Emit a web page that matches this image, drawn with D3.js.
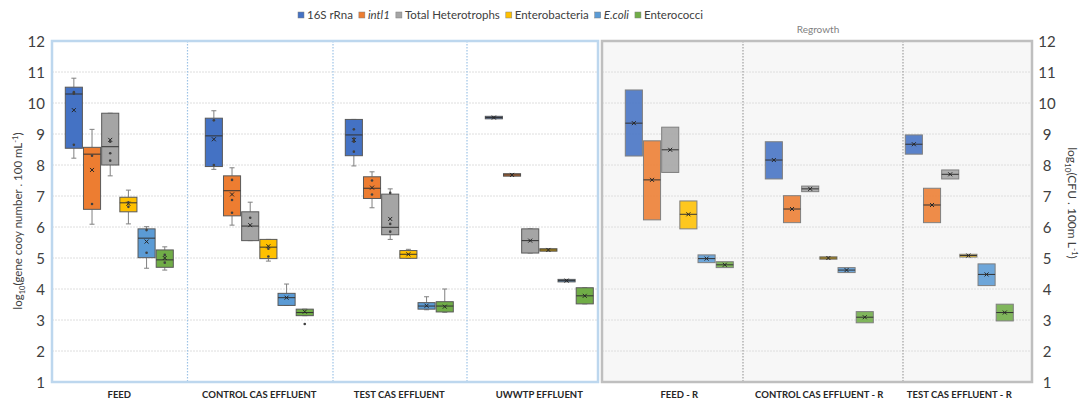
<!DOCTYPE html>
<html><head><meta charset="utf-8">
<script src="https://cdn.jsdelivr.net/npm/d3@7"></script>
<style>body{margin:0;background:#fff}svg{display:block;font-family:Lato,"Open Sans",sans-serif}</style>
</head><body><svg id="c" width="1084" height="403"></svg>
<script>
const categories = ["FEED","CONTROL CAS EFFLUENT","TEST CAS EFFLUENT","UWWTP EFFLUENT","FEED - R","CONTROL CAS EFFLUENT - R","TEST CAS EFFLUENT - R"];
const seriesNames = ["16S rRna","intl1","Total Heterotrophs","Enterobacteria","E.coli","Enterococci"];
const seriesColors = ["#4472c4","#ed7d31","#a5a5a5","#ffc000","#5b9bd5","#70ad47"];
const yTicks = [1,2,3,4,5,6,7,8,9,10,11,12];
// rows: [whiskerLow, q1, median, q3, whiskerHigh, mean] per category
const s16S = [[8.22,8.54,10.29,10.51,10.80,9.77],[7.86,7.95,8.94,9.51,9.75,8.83],[7.97,8.30,8.97,9.47,9.47,8.81],[9.50,9.50,9.53,9.56,9.56,9.53],[null,8.29,9.35,10.42,null,9.35],[null,7.55,8.16,8.75,null,8.16],[null,8.35,8.67,8.97,null,8.67]];
const sIntl1 = [[6.09,6.57,8.35,8.57,9.15,7.84],[6.06,6.36,7.17,7.65,7.91,7.05],[6.62,6.92,7.25,7.62,7.78,7.27],[7.66,7.66,7.68,7.70,7.70,7.68],[null,6.23,7.52,8.78,null,7.52],[null,6.14,6.58,7.01,null,6.58],[null,6.14,6.71,7.25,null,6.71]];
const sTotalHet = [[7.65,8.00,8.59,9.67,9.67,8.81],[5.56,5.56,6.03,6.49,6.80,6.06],[5.60,5.75,5.99,7.06,7.23,6.26],[5.16,5.16,5.56,5.94,5.94,5.56],[null,7.76,8.49,9.22,null,8.49],[null,7.14,7.23,7.32,null,7.23],[null,7.55,7.70,7.84,null,7.70]];
const sEnterobact = [[6.10,6.49,6.78,6.96,7.19,6.75],[4.90,4.98,5.35,5.60,5.60,5.38],[4.99,4.99,5.12,5.24,5.28,5.12],[5.24,5.24,5.26,5.28,5.28,5.26],[null,5.94,6.41,6.84,null,6.41],[null,4.97,5.00,5.03,null,5.00],[null,5.03,5.08,5.12,null,5.08]];
const sEcoli = [[4.67,5.01,5.64,5.94,6.01,5.53],[3.47,3.47,3.72,3.86,4.16,3.72],[3.33,3.35,3.45,3.56,3.75,3.46],[4.25,4.25,4.27,4.29,4.29,4.27],[null,4.85,4.98,5.10,null,4.98],[null,4.53,4.61,4.69,null,4.61],[null,4.11,4.47,4.81,null,4.47]];
const sEnterococci = [[4.61,4.70,4.94,5.26,5.36,5.00],[3.14,3.14,3.24,3.35,3.35,3.27],[3.25,3.26,3.45,3.59,4.00,3.43],[3.52,3.52,3.78,4.04,4.04,3.78],[null,4.69,4.78,4.88,null,4.78],[null,2.91,3.09,3.27,null,3.09],[null,2.97,3.24,3.51,null,3.24]];
// individual points per category
const p16S = [[10.3,10.35,8.65],[9.44,8.0],[9.15,8.85,8.75,8.43],[],[],[],[]];
const pIntl1 = [[8.3,6.74],[7.52,6.87,6.46],[7.5,7.05],[],[],[],[]];
const pTotalHet = [[8.75,8.38,8.14],[6.3],[6.1,5.85,7.1],[],[],[],[]];
const pEnterobact = [[6.8,6.65],[5.3,5.05],[],[],[],[],[]];
const pEcoli = [[5.9,5.17],[],[],[],[],[],[]];
const pEnterococci = [[5.1,4.85],[2.87],[],[],[],[],[]];

const allStats = [s16S,sIntl1,sTotalHet,sEnterobact,sEcoli,sEnterococci];
const allPts = [p16S,pIntl1,pTotalHet,pEnterobact,pEcoli,pEnterococci];

const svg = d3.select("#c");
const yTop = 41, yBot = 382;
const y = d3.scaleLinear().domain([1,12]).range([yBot, yTop]);
const x = d3.scaleBand().domain(categories).range([49.3, 1029.3]);
const xi = d3.scaleBand().domain(seriesNames).range([x.bandwidth()/2-54, x.bandwidth()/2+54]).paddingInner(0.06);

// panels
const L0 = 52, L1 = 598, R0 = 602, R1 = 1032;
svg.append("rect").attr("x",R0).attr("y",yTop).attr("width",R1-R0).attr("height",yBot-yTop).attr("fill","#f7f7f7");
// grid
const grid = svg.append("g");
yTicks.slice(1,-1).forEach(v=>{
  grid.append("line").attr("x1",L0).attr("x2",L1).attr("y1",y(v)).attr("y2",y(v)).attr("stroke","#dedede").attr("stroke-dasharray","2,1");
  grid.append("line").attr("x1",R0).attr("x2",R1).attr("y1",y(v)).attr("y2",y(v)).attr("stroke","#dedede").attr("stroke-dasharray","2,1");
});
// dividers
[187.5,333,467].forEach(d=>svg.append("line").attr("x1",d).attr("x2",d).attr("y1",yTop).attr("y2",yBot).attr("stroke","#9dc3e6").attr("stroke-width",1.2).attr("stroke-dasharray","1.5,1.5"));
[743,903].forEach(d=>svg.append("line").attr("x1",d).attr("x2",d).attr("y1",yTop).attr("y2",yBot).attr("stroke","#a0a0a0").attr("stroke-width",1.2).attr("stroke-dasharray","1.5,1.5"));
svg.append("rect").attr("x",L0).attr("y",yTop).attr("width",L1-L0).attr("height",yBot-yTop).attr("fill","none").attr("stroke","#bdd7ee").attr("stroke-width",2.5);
svg.append("rect").attr("x",R0).attr("y",yTop).attr("width",R1-R0).attr("height",yBot-yTop).attr("fill","none").attr("stroke","#bfbfbf").attr("stroke-width",2.5);

// boxes
const bw = xi.bandwidth();
seriesNames.forEach((s,si)=>{
  const g = svg.append("g");
  categories.forEach((c,ci)=>{
    const d = allStats[si][ci];
    const cx = x(c) + xi(s) + bw/2;
    const left = x(c) + xi(s);
    const regrow = ci >= 4;
    if (d[0] !== null) {
      g.append("line").attr("x1",cx).attr("x2",cx).attr("y1",y(d[4])).attr("y2",y(d[3])).attr("stroke","#808080").attr("stroke-width",1);
      g.append("line").attr("x1",cx).attr("x2",cx).attr("y1",y(d[1])).attr("y2",y(d[0])).attr("stroke","#808080").attr("stroke-width",1);
      [d[0],d[4]].forEach(v=>g.append("line").attr("x1",cx-2.5).attr("x2",cx+2.5).attr("y1",y(v)).attr("y2",y(v)).attr("stroke","#808080"));
    }
    const h = Math.max(y(d[1]) - y(d[3]), 2.5);
    g.append("rect").attr("x",left).attr("y",(y(d[1])+y(d[3]))/2 - h/2).attr("width",bw).attr("height",h)
      .attr("fill",seriesColors[si]).attr("fill-opacity",regrow?0.88:1)
      .attr("stroke",regrow?"#7f7f7f":"#595959").attr("stroke-width",1);
    g.append("line").attr("x1",left).attr("x2",left+bw).attr("y1",y(d[2])).attr("y2",y(d[2])).attr("stroke","#333").attr("stroke-width",1);
    const m = y(d[5]);
    g.append("path").attr("d",`M${cx-2},${m-2}L${cx+2},${m+2}M${cx-2},${m+2}L${cx+2},${m-2}`).attr("stroke","#262626").attr("stroke-width",1);
    allPts[si][ci].forEach(v=>g.append("circle").attr("cx",cx).attr("cy",y(v)).attr("r",1.3).attr("fill","#404040"));
  });
});

// axes
const axL = svg.append("g").attr("transform",`translate(${L0-7},0)`).call(d3.axisLeft(y).tickValues(yTicks).tickSize(0).tickPadding(0));
axL.select(".domain").remove();
axL.selectAll("text").attr("font-size",15).attr("fill","#404040").attr("font-family","Lato,'Open Sans',sans-serif").attr("dy","0.35em");
const axR = svg.append("g").attr("transform",`translate(1047,0)`).call(d3.axisRight(y).tickValues(yTicks).tickSize(0).tickPadding(0));
axR.select(".domain").remove();
axR.selectAll("text").attr("font-size",15).attr("fill","#404040").attr("text-anchor","middle").attr("font-family","Lato,'Open Sans',sans-serif").attr("dy","0.35em");

// x labels
categories.forEach(c=>svg.append("text").attr("x",x(c)+x.bandwidth()/2).attr("y",398).attr("text-anchor","middle")
  .attr("font-size",9.5).attr("font-weight","bold").attr("fill","#262626").text(c));

// axis titles
const tl = svg.append("text").attr("transform","translate(22,221) rotate(-90)").attr("text-anchor","middle").attr("font-size",11.5).attr("fill","#404040");
tl.append("tspan").text("log");
tl.append("tspan").attr("font-size",7.5).attr("dy",3).text("10");
tl.append("tspan").attr("dy",-3).text("(gene cooy number . 100 mL");
tl.append("tspan").attr("font-size",7.5).attr("dy",-4).text("-1");
tl.append("tspan").attr("dy",4).text(")");
const tr = svg.append("text").attr("transform","translate(1068,203) rotate(90)").attr("text-anchor","middle").attr("font-size",12).attr("fill","#404040");
tr.append("tspan").text("log");
tr.append("tspan").attr("font-size",8).attr("dy",3).text("10");
tr.append("tspan").attr("dy",-3).text("(CFU . 100m L");
tr.append("tspan").attr("font-size",8).attr("dy",-4).text("-1");
tr.append("tspan").attr("dy",4).text(")");

svg.append("text").attr("x",818).attr("y",33).attr("text-anchor","middle").attr("font-size",10).attr("fill","#7f7f7f").text("Regrowth");

// legend
let lx = 298;
const lg = svg.append("g");
seriesNames.forEach((s,i)=>{
  lg.append("rect").attr("x",lx).attr("y",12).attr("width",6).attr("height",6).attr("fill",seriesColors[i]).attr("stroke","#7f7f7f").attr("stroke-width",0.5);
  const t = lg.append("text").attr("x",lx+9).attr("y",19).attr("font-size",11.5).attr("fill","#404040")
    .attr("font-style",(i===1||i===4)?"italic":"normal").text(s);
  lx += 9 + t.node().getComputedTextLength() + 6;
});
</script></body></html>
